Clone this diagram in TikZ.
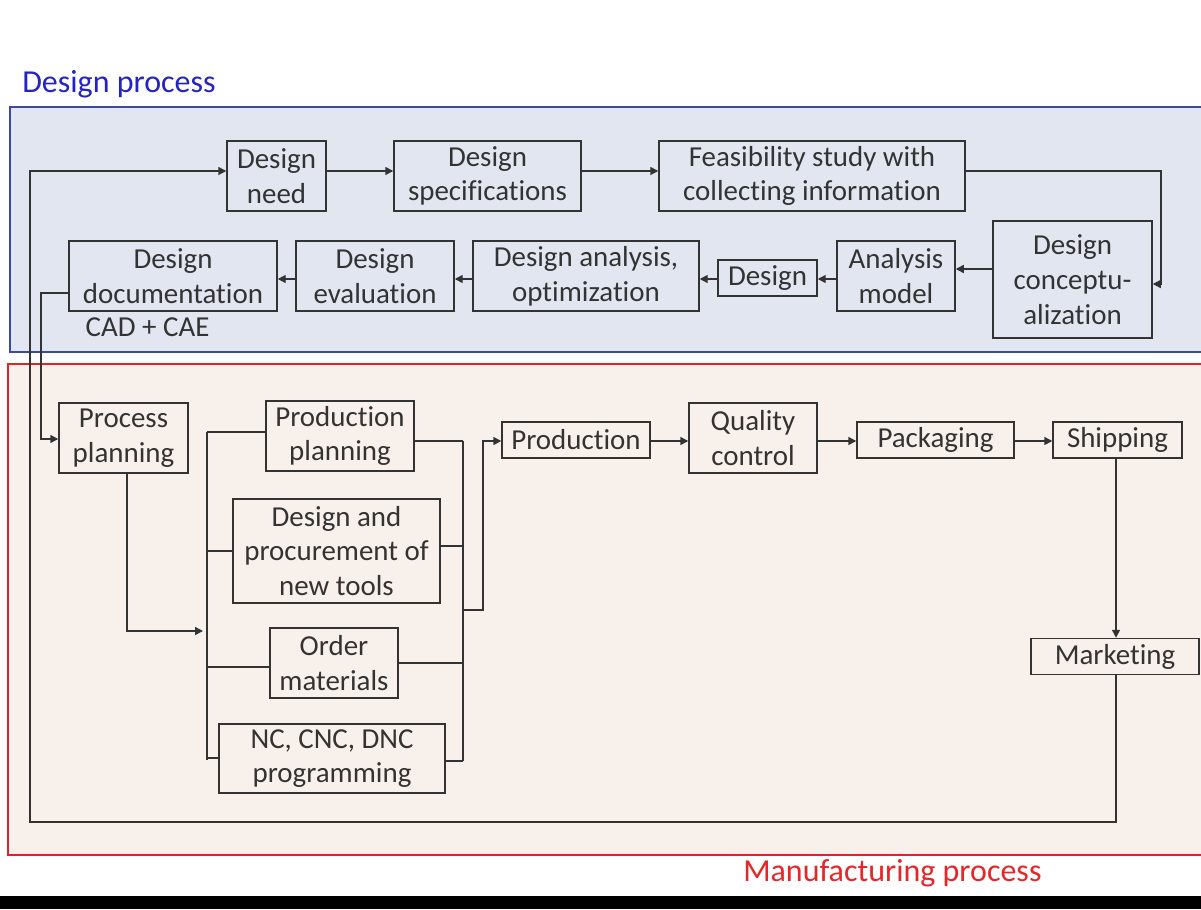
\documentclass[tikz,border=0pt]{standalone}
\usepackage{fontspec}
\setmainfont{Carlito}[Ligatures=NoCommon]
\usetikzlibrary{arrows.meta}
\definecolor{dfill}{HTML}{E2E6F0}
\definecolor{dline}{HTML}{3B4A9E}
\definecolor{dtext}{HTML}{2323C8}
\definecolor{mfill}{HTML}{F8F0EA}
\definecolor{mline}{HTML}{E0222C}
\definecolor{mtext}{HTML}{E8262A}
\definecolor{ink}{HTML}{333333}
\tikzset{
  box/.style={draw=ink, line width=1.1pt, inner sep=0pt, align=center, text=ink,
    font=\fontsize{21.7}{26}\selectfont},
  conn/.style={draw=ink, line width=1.1pt},
  arr/.style={conn, -{Triangle[length=6pt,width=6pt]}},
  lbl/.style={inner sep=0pt, font=\fontsize{24}{28}\selectfont}
}
\begin{document}
\begin{tikzpicture}[x=0.75pt,y=-0.75pt]
\useasboundingbox (0,0) rectangle (1201,909);
\clip (0,0) rectangle (1201,909);
% frames
\fill[white] (0,0) rectangle (1201,909);
\draw[fill=dfill, draw=dline, line width=1.5pt] (10,107) rectangle (1220,352);
\draw[fill=mfill, draw=mline, line width=1.5pt] (8,364) rectangle (1220,855);
\fill[black] (0,896) rectangle (1201,909);
\node[lbl, text=dtext, anchor=west] (dlabel) at (22,84) {Design process};
\node[lbl, text=mtext, anchor=west] (mlabel) at (743,873) {Manufacturing process};
% design nodes
\node[box, minimum width=74.25pt, minimum height=52.5pt] (dneed) at (276.5,176) {Design\\need};
\node[box, minimum width=140.25pt, minimum height=52.5pt] (dspec) at (487.5,176) {Design\\specifications};
\node[box, minimum width=229.5pt, minimum height=52.5pt] (feas) at (812,176) {Feasibility study with\\collecting information};
\node[box, minimum width=119.25pt, minimum height=87.75pt] (concept) at (1072.5,279.5) {Design\\conceptu-\\alization};
\node[box, minimum width=88.5pt, minimum height=52.5pt] (amodel) at (896,276) {Analysis\\model};
\node[box, minimum width=74.25pt, minimum height=27pt] (design) at (767.5,278) {Design};
\node[box, minimum width=169.5pt, minimum height=52.5pt] (danal) at (586,276) {Design analysis,\\optimization};
\node[box, minimum width=118.5pt, minimum height=52.5pt] (deval) at (375,276) {Design\\evaluation};
\node[box, minimum width=156pt, minimum height=52.5pt] (ddoc) at (173,276) {Design\\documentation};
\node[box, draw=none, anchor=west] (cad) at (85,327) {CAD + CAE};
% manufacturing nodes
\node[box, minimum width=96.75pt, minimum height=52.5pt] (pplan) at (123.5,438) {Process\\planning};
\node[box, minimum width=111pt, minimum height=52.5pt] (prodplan) at (340,436) {Production\\planning};
\node[box, minimum width=155.25pt, minimum height=78pt] (tools) at (336.5,551) {Design and\\procurement of\\new tools};
\node[box, minimum width=96pt, minimum height=52.5pt] (order) at (334,663) {Order\\materials};
\node[box, minimum width=169.5pt, minimum height=51.75pt] (nc) at (332,758.5) {NC, CNC, DNC\\programming};
\node[box, minimum width=111pt, minimum height=27pt] (prod) at (576,440) {Production};
\node[box, minimum width=96pt, minimum height=52.5pt] (qc) at (753,438) {Quality\\control};
\node[box, minimum width=117.75pt, minimum height=27pt] (pack) at (935.5,440) {Packaging};
\node[box, minimum width=96.75pt, minimum height=27pt] (ship) at (1117.5,440) {Shipping};
\node[box, minimum width=126pt, minimum height=27pt] (market) at (1115,656.5) {Marketing};
% helper coordinates
\coordinate (tee) at (203,631);
\coordinate (lbtop) at (207,432);
\coordinate (lbbot) at (207,760);
\coordinate (rbtop) at (463,441);
\coordinate (rbbot) at (463,761);
% design connectors
\draw[arr] (dneed.east |- 0,171) -- (dspec.west |- 0,171);
\draw[arr] (dspec.east |- 0,171) -- (feas.west |- 0,171);
\draw[arr] (feas.east |- 0,171) -- (1161,171) -- (1161,284) -- (concept.east |- 0,284);
\draw[arr] (concept.west |- 0,269) -- (amodel.east |- 0,269);
\draw[arr] (amodel.west |- 0,279) -- (design.east |- 0,279);
\draw[arr] (design.west |- 0,279) -- (danal.east |- 0,279);
\draw[arr] (danal.west |- 0,279) -- (deval.east |- 0,279);
\draw[arr] (deval.west |- 0,279) -- (ddoc.east |- 0,279);
\draw[arr] (ddoc.west |- 0,293) -- (41,293) -- (41,439) -- (pplan.west |- 0,439);
% manufacturing connectors
\draw[arr] (127,473) -- (127,631) -- (tee);
\draw[conn] (lbtop) -- (lbbot);
\draw[conn] (lbtop) -- (prodplan.west |- lbtop);
\draw[conn] (207,551) -- (tools.west |- 0,551);
\draw[conn] (207,667) -- (order.west |- 0,667);
\draw[conn] (207,758) -- (nc.west |- 0,758);
\draw[conn] (rbtop) -- (rbbot);
\draw[conn] (prodplan.east |- rbtop) -- (rbtop);
\draw[conn] (tools.east |- 0,546) -- (463,546);
\draw[conn] (order.east |- 0,663) -- (463,663);
\draw[conn] (nc.east |- rbbot) -- (rbbot);
\draw[arr] (463,610) -- (483,610) -- (483,441) -- (prod.west |- 0,441);
\draw[arr] (prod.east |- 0,441) -- (qc.west |- 0,441);
\draw[arr] (qc.east |- 0,441) -- (pack.west |- 0,441);
\draw[arr] (pack.east |- 0,441) -- (ship.west |- 0,441);
\draw[arr] (ship.south -| 1116,0) -- (market.north -| 1116,0);
\draw[arr] (market.south -| 1116,0) -- (1116,822) -- (30,822) -- (30,171) -- (dneed.west |- 0,171);
\end{tikzpicture}
\end{document}
